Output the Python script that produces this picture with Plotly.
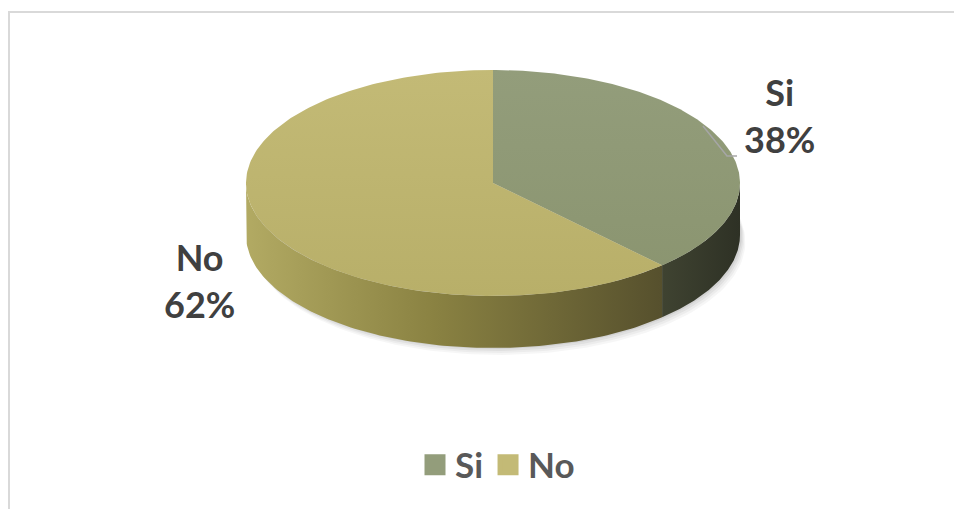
import numpy as np
import plotly.graph_objects as go

# ---- data ----
labels = ["Si", "No"]
values = [38, 62]
top_colors = ["#939d7b", "#c3ba76"]
top_colors_low = ["#8a946f", "#b8af69"]
side_scales = [
    [[0, "#3f4331"], [1, "#2e3125"]],
    [[0, "#b2aa63"], [0.45, "#8a8242"], [1, "#56502d"]],
]

# ---- layout geometry (page-pixel axis units; page body has an 8px margin) ----
PAGE_W, PAGE_H, OFF = 962, 509, 8
W, H = PAGE_W - OFF, PAGE_H - OFF
CX, CY, RX, RY, DEPTH = 493, 183, 247, 113, 52

def pt(t_deg, dy=0.0):
    t = np.radians(t_deg)
    return CX + RX * np.sin(t), CY - RY * np.cos(t) + dy

fig = go.Figure()

# soft shadow
for k, a in enumerate([0.035, 0.04, 0.05, 0.06]):
    ts = np.linspace(0, 360, 200)
    off = 9 - 2 * k
    xs, ys = pt(ts, DEPTH + off - 2)
    xs = xs + off * 0.6
    fig.add_trace(go.Scatter(x=xs, y=ys, fill="toself", mode="lines", line=dict(width=0),
                             fillcolor=f"rgba(0,0,0,{a})", hoverinfo="skip", showlegend=False))

total = sum(values)
angles = np.cumsum([0] + [v / total * 360 for v in values])

# sides (front half: 90..270 degrees)
for i, lab in enumerate(labels):
    a, b = max(angles[i], 90), min(angles[i + 1], 270)
    if a >= b:
        continue
    ts = np.linspace(a, b, 120)
    xt, yt = pt(ts)
    xb, yb = pt(ts[::-1], DEPTH)
    xs = np.concatenate([xt, xb, xt[:1]])
    ys = np.concatenate([yt, yb, yt[:1]])
    fig.add_trace(go.Scatter(x=xs, y=ys, fill="toself", mode="lines", line=dict(width=0),
                             fillgradient=dict(type="horizontal", colorscale=side_scales[i],
                                               start=float(xs.min()), stop=float(xs.max())),
                             hoverinfo="skip", showlegend=False))

# top faces
for i, lab in enumerate(labels):
    ts = np.linspace(angles[i], angles[i + 1], 200)
    xa, ya = pt(ts)
    xs = np.concatenate([[CX], xa, [CX]])
    ys = np.concatenate([[CY], ya, [CY]])
    fig.add_trace(go.Scatter(x=xs, y=ys, fill="toself", mode="lines", line=dict(width=0),
                             fillgradient=dict(type="vertical",
                                               colorscale=[[0, top_colors[i]], [1, top_colors_low[i]]],
                                               start=CY - RY, stop=CY + RY),
                             hoverinfo="skip", showlegend=False))

# legend entries
for i, lab in enumerate(labels):
    fig.add_trace(go.Scatter(x=[None], y=[None], mode="markers", name=lab,
                             marker=dict(symbol="square", size=16, color=top_colors[i],
                                         line=dict(width=5, color=top_colors[i]))))

# data labels
label_pos = {"Si": (779, 115), "No": (199, 280)}
for lab, v in zip(labels, values):
    x, y = label_pos[lab]
    fig.add_annotation(x=x, y=y, text=f"<b>{lab}<br>{round(v / total * 100)}%</b>",
                       showarrow=False, font=dict(family="Lato", size=36, color="#404040"),
                       xanchor="center", yanchor="middle")

# leader line for Si
fig.add_shape(type="path", path="M 703 126 L 727 156 L 737 156",
              line=dict(color="#a6a6a6", width=1.5), xref="x", yref="y")

# chart border
fig.add_shape(type="rect", x0=9, y0=12, x1=PAGE_W + 20, y1=PAGE_H + 20,
              line=dict(color="#d9d9d9", width=2), xref="x", yref="y", layer="below")

fig.update_layout(
    width=W, height=H,
    margin=dict(l=0, r=0, t=0, b=0),
    paper_bgcolor="white", plot_bgcolor="white",
    xaxis=dict(range=[OFF, PAGE_W], visible=False, fixedrange=True),
    yaxis=dict(range=[PAGE_H, OFF], visible=False, fixedrange=True),
    showlegend=True,
    legend=dict(orientation="h", x=(497.5 - OFF) / W, xanchor="center",
                y=(PAGE_H - 465) / H, yanchor="middle",
                font=dict(family="Lato", size=35, color="#595959", weight="bold"),
                itemclick=False, itemdoubleclick=False),
)

fig.write_html("out.html")
